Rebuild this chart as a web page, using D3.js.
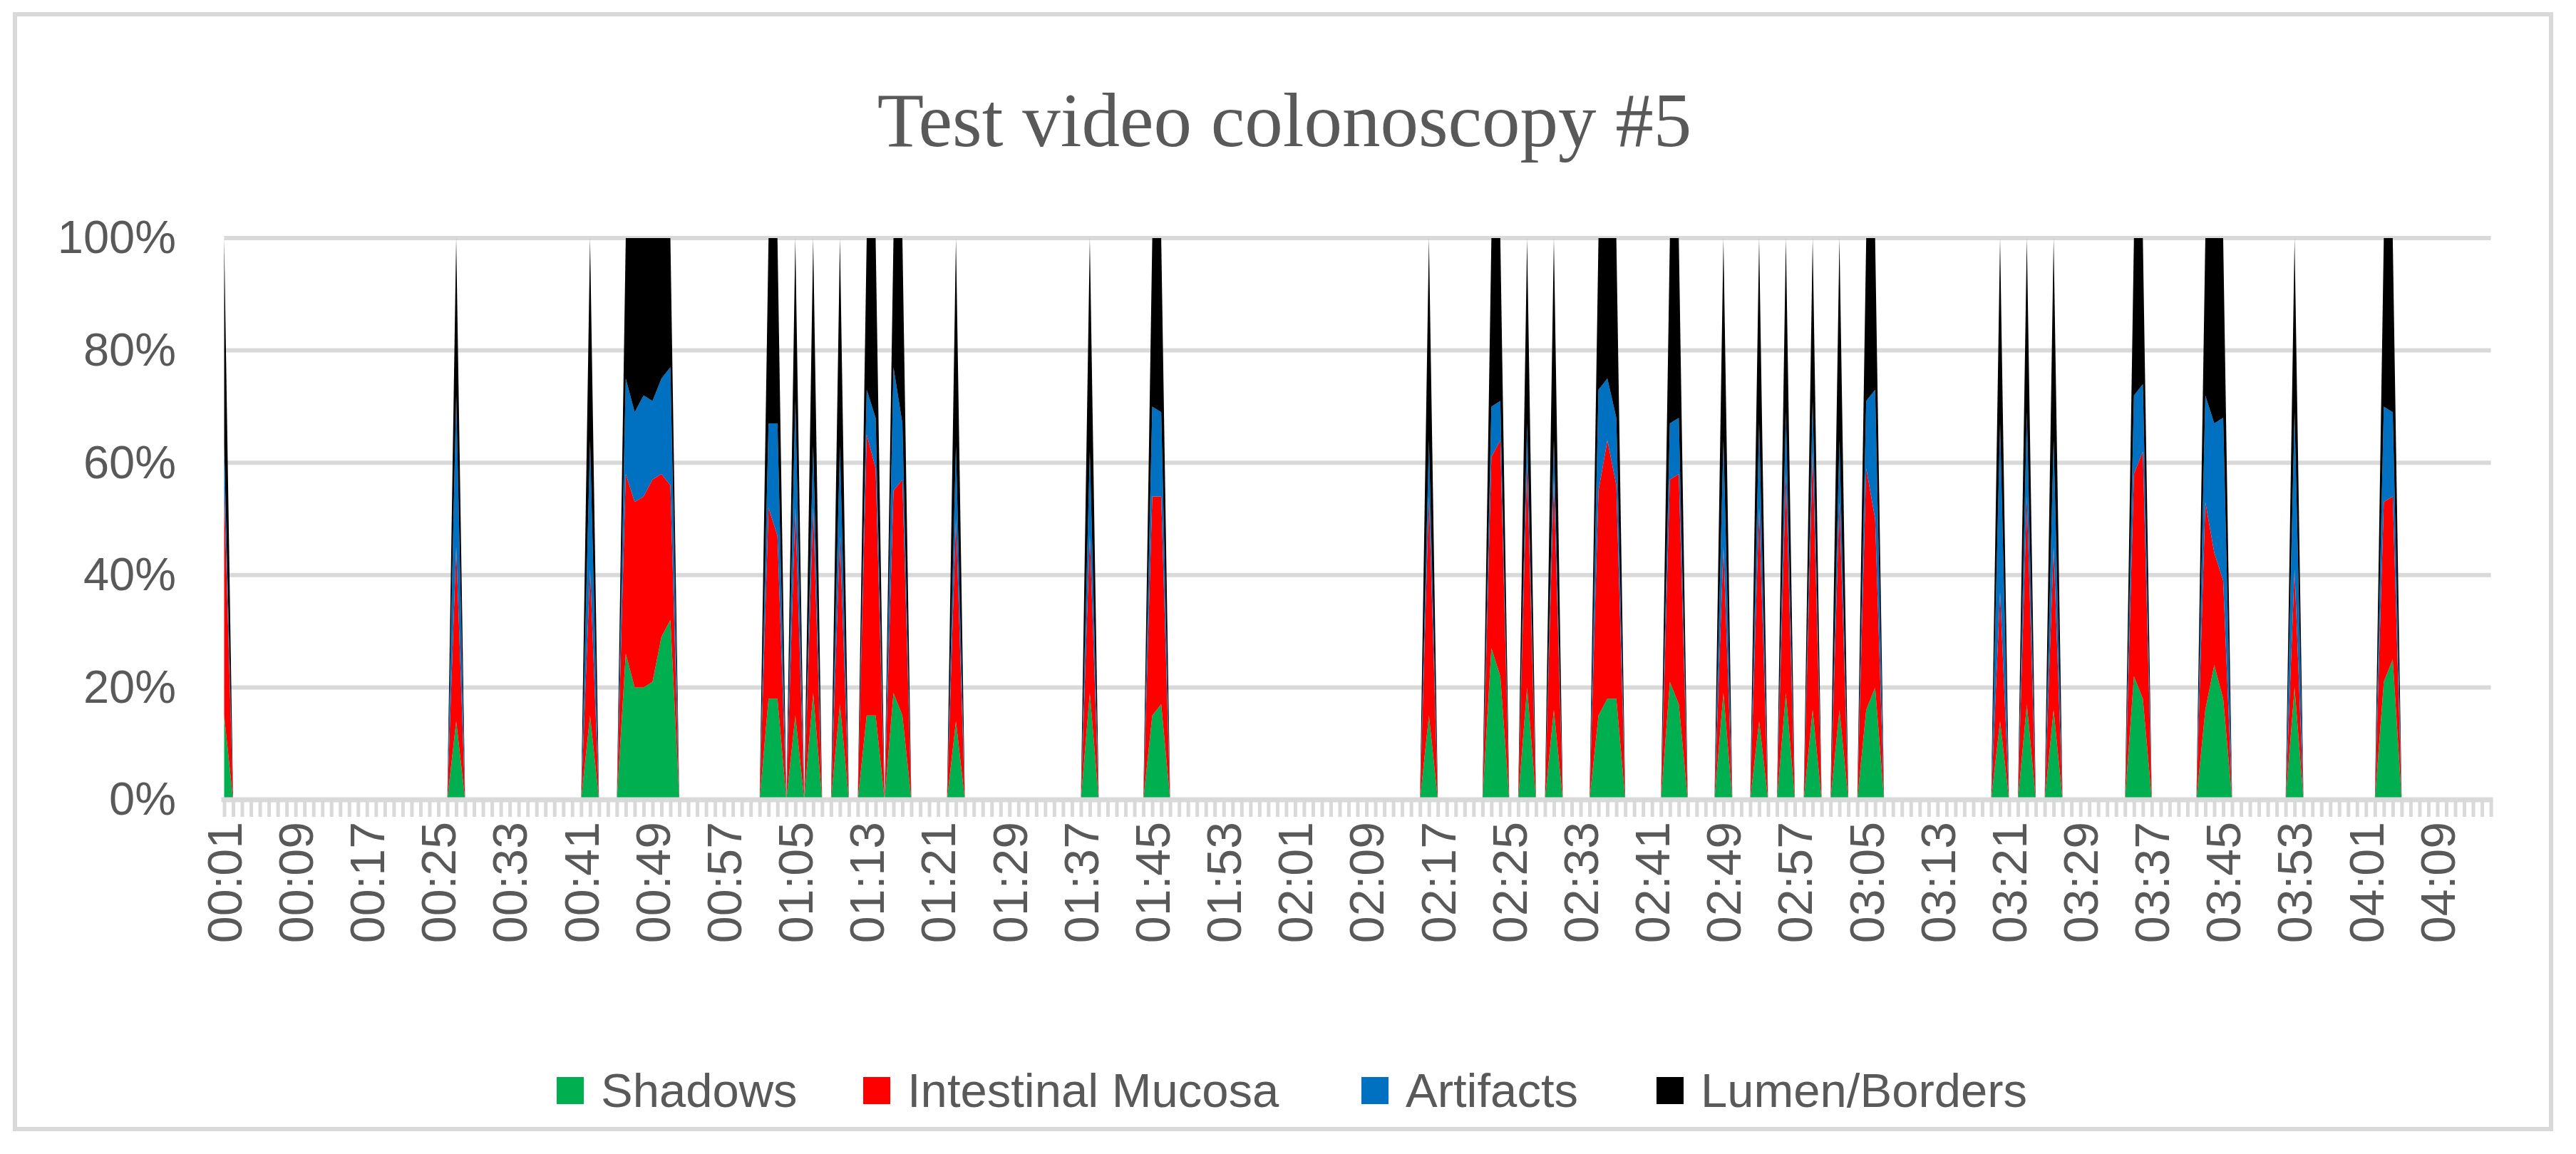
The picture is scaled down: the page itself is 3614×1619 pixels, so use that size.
<!DOCTYPE html>
<html>
<head>
<meta charset="utf-8">
<script src="https://cdn.jsdelivr.net/npm/d3@7"></script>
<style>
  body { margin: 0; background: #fff; }
  text { fill: #595959; }
</style>
</head>
<body>
<div id="chart"></div>
<script>
// one category per second of video, 00:01 .. 04:15
const nSeconds = 255;
const categories = [];
for (let s = 1; s <= nSeconds; s++) {
    categories.push(String(Math.floor(s / 60)).padStart(2, "0") + ":" + String(s % 60).padStart(2, "0"));
}

// seconds (0-based category index) where something was detected; every other second is all zero
const activeIdx = [0, 26, 41, 45, 46, 47, 48, 49, 50, 61, 62, 64, 66, 69, 72, 73, 75, 76, 82, 97,
    104, 105, 135, 142, 143, 146, 149, 154, 155, 156, 162, 163, 168, 172, 175, 178, 181, 184, 185,
    199, 202, 205, 214, 215, 222, 223, 224, 232, 242, 243];

// share (%) of each class at those seconds
const shadows = [15, 14, 15, 26, 20, 20, 21, 29, 32, 18, 18, 15, 19, 17, 15, 15, 19, 15, 14, 19,
    15, 17, 15, 27, 22, 20, 16, 15, 18, 18, 21, 17, 19, 14, 19, 16, 16, 16, 20,
    14, 17, 16, 22, 18, 16, 24, 18, 20, 21, 25];
const mucosa = [40, 31, 26, 32, 33, 34, 36, 29, 24, 34, 29, 37, 33, 30, 50, 44, 36, 42, 36, 28,
    39, 37, 39, 34, 42, 40, 41, 40, 46, 38, 36, 41, 26, 38, 39, 46, 37, 43, 30,
    23, 37, 29, 36, 44, 37, 20, 21, 21, 32, 29];
const artifacts = [8, 27, 23, 17, 16, 18, 14, 17, 21, 15, 20, 19, 11, 16, 8, 9, 22, 10, 13, 15,
    16, 15, 10, 9, 7, 7, 7, 18, 11, 12, 10, 10, 19, 15, 11, 9, 11, 12, 23,
    30, 15, 19, 14, 12, 19, 23, 29, 28, 17, 15];
const lumen = [37, 28, 36, 25, 31, 28, 29, 25, 23, 33, 33, 29, 37, 37, 27, 32, 23, 33, 37, 38,
    30, 31, 36, 30, 29, 33, 36, 27, 25, 32, 33, 32, 36, 33, 31, 29, 36, 29, 27,
    33, 31, 36, 28, 26, 28, 33, 32, 31, 30, 31];

const seriesNames = ["Shadows", "Intestinal Mucosa", "Artifacts", "Lumen/Borders"];
const seriesColors = ["#00B050", "#FF0000", "#0070C0", "#000000"];
const yTicks = [0, 0.2, 0.4, 0.6, 0.8, 1];

// build table
const table = categories.map(function (c) {
    return { t: c, "Shadows": 0, "Intestinal Mucosa": 0, "Artifacts": 0, "Lumen/Borders": 0 };
});
activeIdx.forEach(function (idx, k) {
    table[idx]["Shadows"] = shadows[k];
    table[idx]["Intestinal Mucosa"] = mucosa[k];
    table[idx]["Artifacts"] = artifacts[k];
    table[idx]["Lumen/Borders"] = lumen[k];
});

const W = 3614, H = 1619;
const plot = { left: 314.5, right: 3494.6, top: 334, bottom: 1122 };

const svg = d3.select("#chart")
    .append("svg")
    .attr("width", W)
    .attr("height", H)
    .style("font-family", "'Liberation Sans', Arial, sans-serif");

svg.append("rect")
    .attr("x", 0).attr("y", 0)
    .attr("width", W).attr("height", H)
    .attr("fill", "#fff");

// chart border
svg.append("rect")
    .attr("x", 21).attr("y", 20)
    .attr("width", 3558).attr("height", 1564)
    .attr("fill", "none")
    .attr("stroke", "#D9D9D9")
    .attr("stroke-width", 6);

// title
svg.append("text")
    .attr("x", 1802)
    .attr("y", 205)
    .attr("text-anchor", "middle")
    .style("font-family", "'Liberation Serif', 'Times New Roman', serif")
    .style("font-size", "107px")
    .text("Test video colonoscopy #5");

const x = d3.scalePoint()
    .domain(categories)
    .range([plot.left, plot.right]);

const y = d3.scaleLinear()
    .domain([0, 1])
    .range([plot.bottom, plot.top]);

// gridlines
svg.append("g")
    .selectAll("line")
    .data(yTicks.slice(1))
    .enter()
    .append("line")
    .attr("x1", plot.left)
    .attr("x2", plot.right)
    .attr("y1", function (d) { return y(d); })
    .attr("y2", function (d) { return y(d); })
    .attr("stroke", "#D9D9D9")
    .attr("stroke-width", 6);

// stacked 100% areas
const stack = d3.stack()
    .keys(seriesNames)
    .offset(d3.stackOffsetExpand);

const layers = stack(table);

const area = d3.area()
    .x(function (d) { return x(d.data.t); })
    .y0(function (d) { return y(d[0]); })
    .y1(function (d) { return y(d[1]); });

svg.append("g")
    .selectAll("path")
    .data(layers)
    .enter()
    .append("path")
    .attr("fill", function (d, i) { return seriesColors[i]; })
    .attr("d", area);

// x axis
const xAxis = svg.append("g")
    .attr("transform", "translate(0," + plot.bottom + ")")
    .call(d3.axisBottom(x)
        .tickSize(24)
        .tickFormat(function (d, i) { return i % 8 === 0 ? d : ""; }));

xAxis.select(".domain").remove();
xAxis.selectAll(".tick line")
    .attr("stroke", "#D9D9D9")
    .attr("stroke-width", 5);
xAxis.selectAll(".tick text")
    .attr("x", 0)
    .attr("y", 0)
    .attr("dy", "0.35em")
    .attr("transform", "translate(0,31) rotate(-90)")
    .attr("text-anchor", "end")
    .style("font-size", "68px")
    .style("font-family", "'Liberation Sans', Arial, sans-serif")
    .attr("fill", "#595959");

// baseline
svg.append("line")
    .attr("x1", plot.left - 4)
    .attr("x2", plot.right + 3)
    .attr("y1", plot.bottom)
    .attr("y2", plot.bottom)
    .attr("stroke", "#D9D9D9")
    .attr("stroke-width", 7);

// y axis
const yAxis = svg.append("g")
    .attr("transform", "translate(" + 247 + ",0)")
    .call(d3.axisLeft(y)
        .tickValues(yTicks)
        .tickSize(0)
        .tickFormat(d3.format(".0%")));

yAxis.select(".domain").remove();
yAxis.selectAll(".tick text")
    .attr("x", 0)
    .style("font-size", "65px")
    .style("font-family", "'Liberation Sans', Arial, sans-serif")
    .attr("fill", "#595959");

// legend
const legendX = [781, 1211, 1910, 2324];
const legend = svg.append("g")
    .selectAll("g")
    .data(seriesNames)
    .enter()
    .append("g")
    .attr("transform", function (d, i) { return "translate(" + legendX[i] + ",1530)"; });

legend.append("rect")
    .attr("x", 0)
    .attr("y", -19)
    .attr("width", 38)
    .attr("height", 38)
    .attr("fill", function (d, i) { return seriesColors[i]; });

legend.append("text")
    .attr("x", 62)
    .attr("y", 0)
    .attr("dy", "0.35em")
    .style("font-size", "67px")
    .text(function (d) { return d; });
</script>
</body>
</html>
